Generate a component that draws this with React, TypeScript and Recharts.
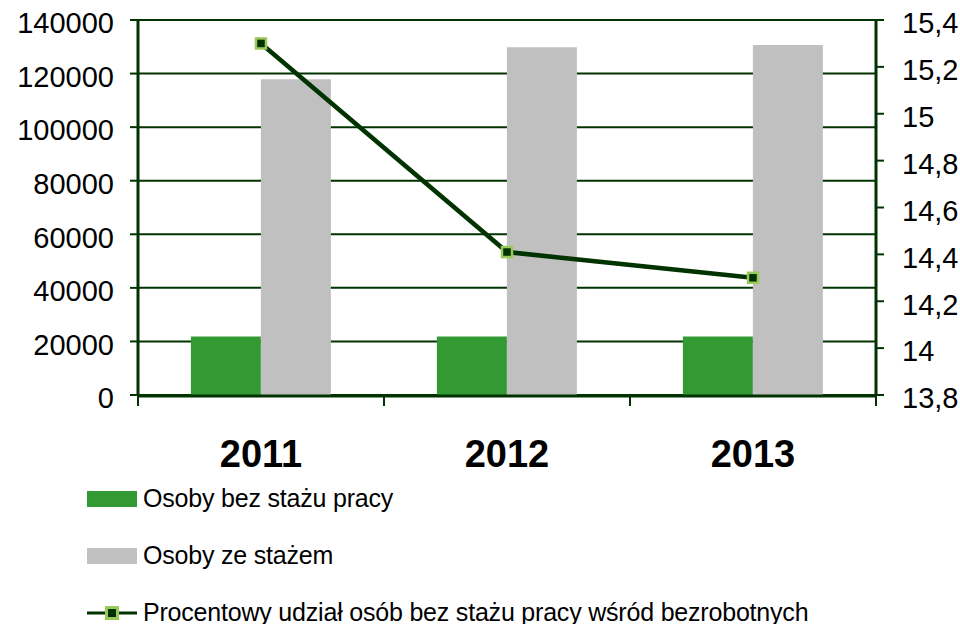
import React from 'react'
import { ComposedChart, Bar, Line, XAxis, YAxis, CartesianGrid, Legend } from 'recharts'

const LATA = ['2011', '2012', '2013']
const BEZ_STAZU = [21800, 21800, 21800]
const ZE_STAZEM = [117900, 129800, 130700]
const PROCENT = [15.3, 14.41, 14.3]

const TICKI_LEWE = [0, 20000, 40000, 60000, 80000, 100000, 120000, 140000]
const TICKI_PRAWE = [13.8, 14, 14.2, 14.4, 14.6, 14.8, 15, 15.2, 15.4]
const GRANICE = [0, 1, 2, 3]

const dane = LATA.map((rok, i) => ({
  rok,
  srodek: i + 0.5,
  bez: BEZ_STAZU[i],
  ze: ZE_STAZEM[i],
  proc: PROCENT[i],
}))

const CIEMNY = '#003300'
const JASNY = '#9bc85a'
const FONT = '"Liberation Sans", Arial, sans-serif'

const przecinek = (v: number) => String(+v.toFixed(1)).replace('.', ',')

function Kwadrat(props: any) {
  const { cx, cy, index } = props
  if (cx == null || cy == null) return null
  return <rect key={index} x={cx - 5} y={cy - 5} width={10} height={10} fill={CIEMNY} stroke={JASNY} strokeWidth={2.5} />
}

function Legenda({ payload }: any) {
  return (
    <div style={{ fontFamily: FONT, fontSize: 25, color: '#000' }}>
      {(payload || []).map((p: any) => (
        <div key={p.value} style={{ display: 'flex', alignItems: 'center', height: 57 }}>
          <svg width={52} height={20} style={{ marginRight: 4 }}>
            {p.type === 'line' ? (
              <g>
                <line x1={0} y1={10} x2={50} y2={10} stroke={CIEMNY} strokeWidth={3} />
                <rect x={19.5} y={4.5} width={11} height={11} fill={CIEMNY} stroke={JASNY} strokeWidth={3} />
              </g>
            ) : (
              <rect x={0} y={2} width={50} height={16} fill={p.color} />
            )}
          </svg>
          <span style={{ letterSpacing: -0.2 }}>{p.value}</span>
        </div>
      ))}
    </div>
  )
}

export default function App() {
  return (
    <div style={{ width: 960, height: 624, background: '#fff' }}>
      <style>{'body{margin:0}'}</style>
      <ComposedChart
        width={960}
        height={624}
        data={dane}
        margin={{ top: 20, right: 0, bottom: 150, left: 0 }}
        barCategoryGap="21.5%"
        barGap={0}
      >
        <CartesianGrid horizontal vertical={false} stroke={CIEMNY} strokeWidth={2} strokeOpacity={1} yAxisId="lewa" />
        {/* etykiety lat; oś o wysokości 1 px, żeby druga oś stała tuż pod nią */}
        <XAxis
          dataKey="rok"
          height={1}
          axisLine={false}
          tickLine={false}
          tickSize={0}
          tickMargin={45}
          tick={{ fontSize: 38, fontWeight: 'bold', fill: '#000', fontFamily: FONT }}
        />
        {/* osobna oś tylko po to, żeby narysować kreski na granicach kategorii */}
        <XAxis
          xAxisId="granice"
          dataKey="srodek"
          type="number"
          domain={[0, 3]}
          allowDataOverflow
          ticks={GRANICE}
          interval={0}
          tickFormatter={() => ''}
          tickSize={10}
          height={78}
          axisLine={{ stroke: CIEMNY, strokeWidth: 3 }}
          tickLine={{ stroke: CIEMNY, strokeWidth: 2 }}
        />
        <YAxis
          yAxisId="lewa"
          width={138}
          domain={[0, 140000]}
          ticks={TICKI_LEWE}
          tickSize={8}
          tickMargin={16}
          axisLine={{ stroke: CIEMNY, strokeWidth: 3 }}
          tickLine={{ stroke: CIEMNY, strokeWidth: 2 }}
          tick={{ fontSize: 29, fill: '#000', fontFamily: FONT, dy: 3 }}
          interval={0}
        />
        <YAxis
          yAxisId="prawa"
          orientation="right"
          width={84}
          domain={[13.8, 15.4]}
          ticks={TICKI_PRAWE}
          tickFormatter={przecinek}
          tickSize={8}
          tickMargin={18}
          axisLine={{ stroke: CIEMNY, strokeWidth: 3 }}
          tickLine={{ stroke: CIEMNY, strokeWidth: 2 }}
          tick={{ fontSize: 29, fill: '#000', fontFamily: FONT, dy: 3 }}
          interval={0}
        />
        <Bar yAxisId="lewa" dataKey="bez" name="Osoby bez stażu pracy" fill="#339933" isAnimationActive={false} />
        <Bar yAxisId="lewa" dataKey="ze" name="Osoby ze stażem" fill="#c0c0c0" isAnimationActive={false} />
        <Line
          yAxisId="prawa"
          dataKey="proc"
          name="Procentowy udział osób bez stażu pracy wśród bezrobotnych"
          stroke={CIEMNY}
          strokeWidth={4.5}
          dot={Kwadrat}
          activeDot={false}
          legendType="line"
          isAnimationActive={false}
        />
        <Legend
          layout="vertical"
          verticalAlign="middle"
          align="center"
          content={<Legenda />}
          wrapperStyle={{ top: 470, left: 87, width: 820, height: 154 }}
        />
      </ComposedChart>
    </div>
  )
}
